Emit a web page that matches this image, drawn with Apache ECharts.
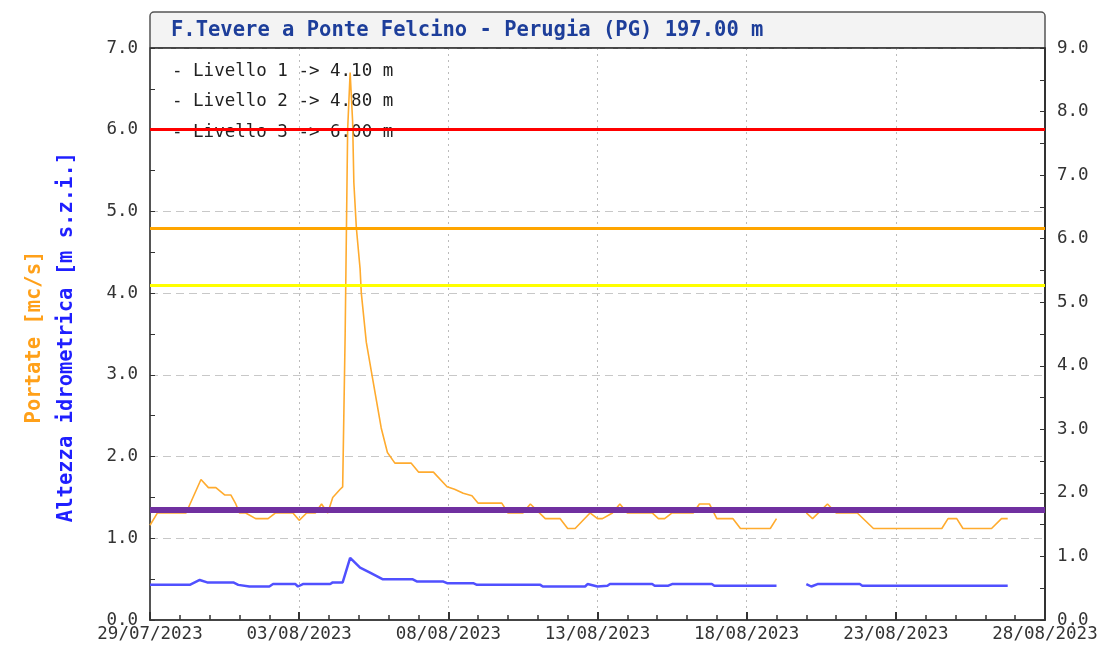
<!DOCTYPE html>
<html>
<head>
<meta charset="utf-8">
<script src="https://cdn.jsdelivr.net/npm/echarts@6/dist/echarts.min.js"></script>
<style>
  html, body { margin: 0; padding: 0; background: #fff; }
  #chart { width: 1118px; height: 666px; }
</style>
</head>
<body>
<div id="chart"></div>
<script>
// titolo e assi
const stationTitle = 'F.Tevere a Ponte Felcino - Perugia (PG) 197.00 m'
const leftName1 = 'Portate [mc/s]'
const leftName2 = 'Altezza idrometrica [m s.z.i.]'

// soglie idrometriche
const levelValues = [4.10, 4.80, 6.00]
const refLine = [1.35]

// portate (arancio) - orari, null = dato mancante
const orangeTimes = [
    '07-29 00:00', '07-29 06:00', '07-30 05:00', '07-30 17:00', '07-30 23:00',
    '07-31 05:00', '07-31 12:00', '07-31 17:00', '07-31 21:00', '08-01 00:00',
    '08-01 05:00', '08-01 13:00', '08-01 23:00', '08-02 05:00', '08-02 19:00',
    '08-03 00:00', '08-03 06:00', '08-03 13:00', '08-03 18:00', '08-03 23:00',
    '08-04 03:00', '08-04 09:00', '08-04 11:00', '08-04 13:00', '08-04 15:00',
    '08-04 17:00', '08-04 19:00', '08-04 20:00', '08-04 22:00', '08-05 01:00',
    '08-05 02:00', '08-05 06:00', '08-05 10:00', '08-05 14:00', '08-05 18:00',
    '08-05 23:00', '08-06 05:00', '08-06 18:00', '08-07 00:00', '08-07 12:00',
    '08-07 23:00', '08-08 05:00', '08-08 12:00', '08-08 19:00', '08-09 00:00',
    '08-09 19:00', '08-10 00:00', '08-10 12:00', '08-10 18:00', '08-11 06:00',
    '08-11 18:00', '08-12 00:00', '08-12 06:00', '08-12 18:00', '08-13 00:00',
    '08-13 04:00', '08-13 12:00', '08-13 18:00', '08-14 00:00', '08-14 20:00',
    '08-15 01:00', '08-15 06:00', '08-15 12:00', '08-16 05:00', '08-16 10:00',
    '08-16 18:00', '08-17 00:00', '08-17 13:00', '08-17 19:00', '08-18 19:00',
    '08-19 00:00', '08-19 12:00', '08-20 00:00', '08-20 05:00', '08-20 17:00',
    '08-21 00:00', '08-21 17:00', '08-22 06:00', '08-24 13:00', '08-24 18:00',
    '08-25 01:00', '08-25 06:00', '08-26 05:00', '08-26 13:00', '08-26 18:00'
]
const orangeValues = [
    1.16, 1.31, 1.31, 1.72, 1.62, 1.62, 1.53, 1.53, 1.42, 1.31,
    1.31, 1.24, 1.24, 1.31, 1.31, 1.22, 1.31, 1.31, 1.42, 1.31,
    1.5, 1.6, 1.63, 3.5, 6.0, 6.7, 6.1, 5.35, 4.8, 4.3,
    4.0, 3.4, 3.05, 2.7, 2.35, 2.05, 1.92, 1.92, 1.81, 1.81,
    1.63, 1.6, 1.55, 1.52, 1.43, 1.43, 1.31, 1.31, 1.42, 1.24,
    1.24, 1.12, 1.12, 1.31, 1.24, 1.24, 1.31, 1.42, 1.31, 1.31,
    1.24, 1.24, 1.31, 1.31, 1.42, 1.42, 1.24, 1.24, 1.12, 1.12,
    1.24, null, 1.31, 1.24, 1.42, 1.31, 1.31, 1.12, 1.12, 1.24,
    1.24, 1.12, 1.12, 1.24, 1.24
]

// altezza idrometrica (blu)
const blueTimes = [
    '07-29 00:00', '07-30 08:00', '07-30 16:00', '07-30 22:00', '07-31 19:00',
    '07-31 23:00', '08-01 08:00', '08-02 00:00', '08-02 03:00', '08-02 21:00',
    '08-02 23:00', '08-03 03:00', '08-04 01:00', '08-04 03:00', '08-04 11:00',
    '08-04 17:00', '08-05 01:00', '08-05 09:00', '08-05 19:00', '08-06 19:00',
    '08-06 23:00', '08-07 20:00', '08-07 23:00', '08-08 20:00', '08-08 23:00',
    '08-11 02:00', '08-11 04:00', '08-12 14:00', '08-12 16:00', '08-13 00:00',
    '08-13 08:00', '08-13 10:00', '08-14 20:00', '08-14 22:00', '08-15 09:00',
    '08-15 12:00', '08-16 20:00', '08-16 22:00', '08-19 00:00', '08-19 12:00',
    '08-20 00:00', '08-20 04:00', '08-20 09:00', '08-21 19:00', '08-21 21:00',
    '08-26 18:00'
]
const blueValues = [
    0.43, 0.43, 0.49, 0.46, 0.46, 0.43, 0.41, 0.41, 0.44, 0.44,
    0.41, 0.44, 0.44, 0.46, 0.46, 0.76, 0.64, 0.58, 0.50, 0.50,
    0.47, 0.47, 0.45, 0.45, 0.43, 0.43, 0.41, 0.41, 0.44, 0.41,
    0.42, 0.44, 0.44, 0.42, 0.42, 0.44, 0.44, 0.42, 0.42, null,
    0.44, 0.41, 0.44, 0.44, 0.42, 0.42
]

const xStart = '07-29 00:00'
const xEnd = '08-28 00:00'

function toMs(s) {
    let mm = +s.slice(0, 2), dd = +s.slice(3, 5)
    let hh = +s.slice(6, 8), mi = +s.slice(9, 11)
    return Date.UTC(2023, mm - 1, dd, hh, mi)
}
function pairs(times, values) {
    return times.map((t, i) => [toMs(t), values[i]])
}
function pad(n) {
    return n < 10 ? '0' + n : '' + n
}

const DAY = 24 * 3600 * 1000
const mono = '"DejaVu Sans Mono", "Liberation Mono", monospace'

let chart = echarts.init(document.getElementById('chart'))

let option = {
    animation: false,
    backgroundColor: '#fff',
    textStyle: { fontFamily: mono },
    grid: {
        left: 150,
        right: 73,
        top: 48,
        bottom: 46
    },
    graphic: [
        {
            type: 'rect',
            shape: { x: 150, y: 12, width: 895, height: 36, r: [4, 4, 0, 0] },
            style: { fill: '#f3f3f3', stroke: '#555', lineWidth: 1.5 }
        },
        {
            // bordo sotto la fascia del titolo
            type: 'line',
            z: 100,
            shape: { x1: 150, y1: 48, x2: 1045, y2: 48 },
            style: { stroke: '#333', lineWidth: 1.5 }
        },
        {
            type: 'text',
            left: 171,
            top: 20,
            style: {
                text: stationTitle,
                fill: '#1d3e9a',
                font: 'bold 20.5px ' + mono
            }
        },
        {
            type: 'text',
            x: 35,
            y: 337,
            rotation: Math.PI / 2,
            style: {
                text: leftName1,
                fill: '#ffa019',
                font: 'bold 20.5px ' + mono,
                align: 'center',
                verticalAlign: 'middle'
            }
        },
        {
            type: 'text',
            x: 67,
            y: 337,
            rotation: Math.PI / 2,
            style: {
                text: leftName2,
                fill: '#1f1fff',
                font: 'bold 20.5px ' + mono,
                align: 'center',
                verticalAlign: 'middle'
            }
        }
    ].concat(levelValues.map((v, i) => ({
        type: 'text',
        z: -10,
        left: 172,
        top: 62 + i * 30.5,
        style: {
            text: '- Livello ' + (i + 1) + ' -> ' + v.toFixed(2) + ' m',
            fill: '#222',
            font: '17.5px ' + mono
        }
    }))),
    xAxis: {
        type: 'value',
        min: toMs(xStart),
        max: toMs(xEnd),
        interval: 5 * DAY,
        axisLine: { lineStyle: { color: '#444', width: 2 } },
        axisTick: { inside: true, length: 8, lineStyle: { color: '#333', width: 2 } },
        minorTick: { show: true, splitNumber: 5, length: 5, lineStyle: { color: '#333', width: 1.5 } },
        splitLine: { show: true, lineStyle: { color: '#bbb', type: [2, 4] } },
        axisLabel: {
            color: '#333',
            fontSize: 17.5,
            fontFamily: mono,
            margin: 5,
            formatter: function (v) {
                let d = new Date(v)
                return pad(d.getUTCDate()) + '/' + pad(d.getUTCMonth() + 1) + '/' + d.getUTCFullYear()
            }
        }
    },
    yAxis: [
        {
            type: 'value',
            min: 0,
            max: 7,
            interval: 1,
            axisLine: { show: true, lineStyle: { color: '#555', width: 2 } },
            axisTick: { show: true, inside: true, length: 5, lineStyle: { color: '#333' } },
            minorTick: { show: true, splitNumber: 2, length: 5, lineStyle: { color: '#333' } },
            splitLine: { show: true, lineStyle: { color: '#c8c8c8', type: [8, 5] } },
            axisLabel: {
                color: '#333',
                fontSize: 17.5,
                fontFamily: mono,
                margin: 12,
                formatter: v => v.toFixed(1)
            }
        },
        {
            type: 'value',
            min: 0,
            max: 9,
            interval: 1,
            position: 'right',
            axisLine: { show: true, lineStyle: { color: '#333', width: 2 } },
            axisTick: { show: true, inside: true, length: 5, lineStyle: { color: '#333' } },
            minorTick: { show: true, splitNumber: 2, length: 5, lineStyle: { color: '#333' } },
            splitLine: { show: false },
            axisLabel: {
                color: '#333',
                fontSize: 17.5,
                fontFamily: mono,
                margin: 12,
                formatter: v => v.toFixed(1)
            }
        }
    ],
    series: [
        {
            name: 'Portate',
            type: 'line',
            yAxisIndex: 0,
            z: 3,
            symbol: 'none',
            connectNulls: false,
            lineStyle: { color: '#ffab2e', width: 1.6 },
            data: pairs(orangeTimes, orangeValues)
        },
        {
            name: 'Altezza',
            type: 'line',
            yAxisIndex: 0,
            z: 3,
            symbol: 'none',
            connectNulls: false,
            lineStyle: { color: '#5050ff', width: 2.5 },
            data: pairs(blueTimes, blueValues)
        },
        {
            name: 'Soglie',
            type: 'line',
            yAxisIndex: 0,
            z: 5,
            data: [],
            markLine: {
                silent: true,
                symbol: 'none',
                label: { show: false },
                data: [
                    { yAxis: levelValues[0], lineStyle: { color: '#ffff00', width: 3, type: 'solid' } },
                    { yAxis: levelValues[1], lineStyle: { color: '#ffa500', width: 3, type: 'solid' } },
                    { yAxis: levelValues[2], lineStyle: { color: '#ff0000', width: 3, type: 'solid' } },
                    { yAxis: refLine[0], lineStyle: { color: '#7030a0', width: 6, type: 'solid' } }
                ]
            }
        }
    ]
}

chart.setOption(option)
</script>
</body>
</html>
